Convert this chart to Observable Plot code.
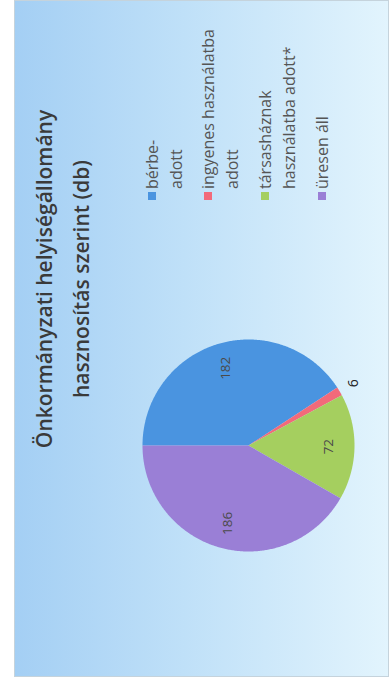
<!DOCTYPE html>
<html>
<head>
<meta charset="utf-8">
<script src="https://cdn.jsdelivr.net/npm/d3@7"></script>
<script src="https://cdn.jsdelivr.net/npm/@observablehq/plot@0.6"></script>
<style>
  html, body { margin: 0; padding: 0; background: #ffffff; }
  body { width: 390px; height: 689px; overflow: hidden; position: relative; }
  #wrap {
    position: absolute; left: 0; top: 0; width: 689px; height: 390px;
    transform-origin: 0 0; transform: translate(0px, 689px) rotate(-90deg);
  }
  #panel {
    position: absolute; left: 12px; top: 14px; width: 675px; height: 373px;
    background: linear-gradient(to bottom, #a4cff4 0%, #bfe0f8 45%, #e2f4fd 100%);
    border: 1px solid #c5d3dc;
  }
  #title {
    position: absolute; left: 230px; width: 360px; top: 26px;
    text-align: center; font-family: "Open Sans", sans-serif; font-weight: 600;
    font-size: 21px; line-height: 37px; color: #3a3a3a; white-space: nowrap;
  }
  #chart { position: absolute; left: 0; top: 0; }
  .leg { position: absolute; font-family: "Open Sans", sans-serif; font-size: 16px; color: #555; white-space: nowrap; }
  .sw { position: absolute; width: 8px; height: 8px; }
</style>
</head>
<body>
<div id="wrap">
  <div id="panel"></div>
  <div id="title">Önkormányzati helyiségállomány<br>hasznosítás szerint (db)</div>
  <div id="chart"></div>
  <div id="legend"></div>
</div>
<script>
const categories = ["bérbe-adott", "ingyenes használatba adott", "társasháznak használatba adott*", "üresen áll"];
const values = [182, 6, 72, 186];
const colors = ["#4a94e0", "#f26a7a", "#a5cf5f", "#9a7fd6"];
const legendLines = [["bérbe-", "adott"], ["ingyenes használatba", "adott"], ["társasháznak", "használatba adott*"], ["üresen áll"]];
const labelOutside = [false, true, false, false];

const arcs = d3.pie().sort(null)(values);
const sliceMarks = arcs.map((a, i) => {
  const pts = [{x: 0, y: 0}];
  const n = Math.max(2, Math.ceil((a.endAngle - a.startAngle) / 0.01));
  for (let k = 0; k <= n; k++) {
    const t = a.startAngle + (a.endAngle - a.startAngle) * k / n;
    pts.push({x: Math.sin(t), y: Math.cos(t)});
  }
  pts.push({x: 0, y: 0});
  return Plot.line(pts, {x: "x", y: "y", fill: colors[i], stroke: "none"});
});
const labels = arcs.map((a, i) => {
  const m = (a.startAngle + a.endAngle) / 2;
  const r = labelOutside[i] ? 1.15 : 0.76;
  return {x: r * Math.sin(m), y: r * Math.cos(m), text: String(values[i]), outside: labelOutside[i]};
});

const cx = 243, cy = 248, R = 106;
const chart = Plot.plot({
  width: 689, height: 390, margin: 0,
  x: {domain: [-1, 1], range: [cx - R, cx + R], axis: null},
  y: {domain: [-1, 1], range: [cy + R, cy - R], axis: null},
  style: {background: "transparent", overflow: "visible"},
  marks: [
    ...sliceMarks,
    Plot.text(labels.filter(d => !d.outside), {x: "x", y: "y", text: "text", fontSize: 13.5, fill: "#4a4a4a", fontFamily: "Open Sans, sans-serif"}),
    Plot.text(labels.filter(d => d.outside), {x: "x", y: "y", text: "text", fontSize: 14, fill: "#222", fontFamily: "Open Sans, sans-serif"})
  ]
});
document.getElementById("chart").appendChild(chart);

// legend
const legend = document.getElementById("legend");
const starts = [152, 208, 265, 322];
const lh = 23.5;
categories.forEach((c, i) => {
  const sw = document.createElement("div");
  sw.className = "sw";
  sw.style.background = colors[i];
  sw.style.left = "489px";
  sw.style.top = (starts[i] - 4) + "px";
  legend.appendChild(sw);
  legendLines[i].forEach((line, j) => {
    const t = document.createElement("div");
    t.className = "leg";
    t.textContent = line;
    t.style.left = "500px";
    t.style.top = (starts[i] + j * lh - 11) + "px";
    t.style.lineHeight = "22px";
    legend.appendChild(t);
  });
});
</script>
</body>
</html>
